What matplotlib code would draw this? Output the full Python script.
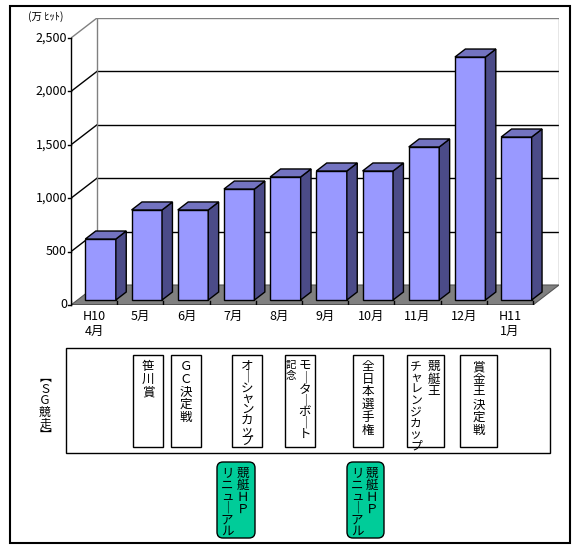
import matplotlib.pyplot as plt
from matplotlib.patches import Polygon, Rectangle, FancyBboxPatch

plt.rcParams['font.family'] = ['Noto Sans CJK JP', 'DejaVu Sans']

# data
months = ['H10\n4月', '5月', '6月', '7月', '8月', '9月', '10月', '11月', '12月', 'H11\n1月']
hits = [571, 843, 843, 1039, 1152, 1208, 1208, 1433, 2275, 1526]
yticks = [0, 500, 1000, 1500, 2000, 2500]
ytick_labels = ['0', '500', '1,000', '1,500', '2,000', '2,500']
unit_label = '(万 ﾋｯﾄ)'

sg_title = '【ＳＧ競走】'
races = [['笹川賞'], ['ＧＣ決定戦'], ['オーシャンカップ'], ['モーターボート', '記念'],
         ['全日本選手権'], ['競艇王', 'チャレンジカップ'], ['賞金王決定戦']]
hp_notes = [['競艇ＨＰ', 'リニューアル'], ['競艇ＨＰ', 'リニューアル']]

# colours
front_c = '#9999ff'
top_c = '#7373c0'
side_c = '#4b4b88'
floor_c = '#808080'

W, H = 585, 546
fig = plt.figure(figsize=(W / 100, H / 100), dpi=100)

# chart axes: x in categories, y in hits; the extra part is the 3d depth
dxd = 26 / 46.2          # depth in category units
dyd = 20 * 2500 / 267    # depth in value units
px = 1 / 46.2
py = 2500 / 267
ax = fig.add_axes([71 / W, 1 - 305 / H, 488 / W, 287 / H])
ax.set_xlim(0, 10 + dxd)
ax.set_ylim(0, 2500 + dyd)
ax.axis('off')

# floor
ax.add_patch(Polygon([(0, 0), (10, 0), (10 + dxd, dyd), (dxd, dyd)],
                     closed=True, fc=floor_c, ec='#555555', lw=0.8, zorder=1))
# walls / gridlines
for v in yticks[1:]:
    col = '#808080' if v == 2500 else 'black'
    ax.plot([dxd, 10 + dxd], [v + dyd, v + dyd], color=col, lw=1, zorder=0.5)
    ax.plot([0, dxd], [v, v + dyd], color=col, lw=1, zorder=0.5)
ax.plot([dxd, dxd], [dyd, 2500 + dyd], color='#808080', lw=1, zorder=0.5)
ax.plot([10 + dxd, 10 + dxd], [dyd, 2500 + dyd], color='#808080', lw=1, zorder=0.5)

# y axis
ax.plot([0, 0], [0, 2500], color='black', lw=1, clip_on=False, zorder=3)
for v, lab in zip(yticks, ytick_labels):
    ax.plot([-3 * px, 0], [v, v], color='black', lw=1, clip_on=False, zorder=3)
    ax.text(-4 * px, v, lab, ha='right', va='center', fontsize=9, clip_on=False)

# x axis
ax.plot([0, 10], [0, 0], color='black', lw=1, zorder=3)
for i in range(11):
    ax.plot([i, i], [0, 4 * py], color='black', lw=1, zorder=3)
for i, m in enumerate(months):
    ax.text(i + 0.5, -5 * py, m, ha='center', va='top', fontsize=9,
            linespacing=1.15, clip_on=False)

# 3d bars
f0, f1 = 0.25, 0.65
bw = 0.66
xs = [i + 0.5 + f0 * dxd for i in range(len(hits))]
base = f0 * dyd
ax.bar(xs, hits, width=bw, bottom=base, color=front_c, edgecolor='black',
       lw=1, zorder=4)
ddx, ddy = (f1 - f0) * dxd, (f1 - f0) * dyd
for x, v in zip(xs, hits):
    xl, xr, yt = x - bw / 2, x + bw / 2, base + v
    ax.add_patch(Polygon([(xr, base), (xr, yt), (xr + ddx, yt + ddy), (xr + ddx, base + ddy)],
                         closed=True, fc=side_c, ec='black', lw=1, zorder=4))
    ax.add_patch(Polygon([(xl, yt), (xr, yt), (xr + ddx, yt + ddy), (xl + ddx, yt + ddy)],
                         closed=True, fc=top_c, ec='black', lw=1, zorder=4))

# overlay in pixel units for the annotation panel
ov = fig.add_axes([0, 0, 1, 1])
ov.set_xlim(0, W)
ov.set_ylim(H, 0)
ov.axis('off')

ov.add_patch(Rectangle((10, 6), 560, 537, fill=False, ec='black', lw=1.5))
ov.text(28, 17, unit_label, ha='left', va='center', fontsize=7.5)


def vtext(x, y, s, pitch, size=9):
    # vertical japanese: one character per line
    s = s.replace('ー', '｜').replace('【', '︻').replace('】', '︼')
    ov.text(x, y, '\n'.join(s), ha='center', va='top', fontsize=size,
            linespacing=pitch / (1.03 * size * 100 / 72),
            multialignment='center')


ov.add_patch(Rectangle((66, 348), 484, 105, fill=False, ec='black', lw=1))
vtext(45, 371, sg_title, 10.5, size=8.5)

race_box = [(133, 163), (171, 201), (232, 262), (285, 315), (353, 383), (407, 444), (460, 497)]
race_pitch = [12.5, 12.5, 10, 10.8, 12.5, 12.5, 12.5]
for (x0, x1), cols, p in zip(race_box, races, race_pitch):
    ov.add_patch(Rectangle((x0, 355), x1 - x0, 92, fill=False, ec='black', lw=1))
    if len(cols) == 1:
        vtext((x0 + x1) / 2, 360, cols[0], p)
    else:
        vtext(x1 - 10, 360, cols[0], p)
        small = len(cols[1]) <= 2
        vtext(x0 + 6 if small else x0 + 9, 360, cols[1], 11.5 if small else 10.2,
              size=7.5 if small else 8.5)

hp_box = [(217, 255), (347, 384)]
for (x0, x1), cols in zip(hp_box, hp_notes):
    ov.add_patch(FancyBboxPatch((x0 + 4, 466), x1 - x0 - 8, 68,
                                boxstyle='round,pad=4,rounding_size=6',
                                fc='#00cc99', ec='black', lw=1))
    vtext(x1 - 12, 467, cols[0], 11.5)
    vtext(x0 + 10, 467, cols[1], 11)

fig.savefig('out.png', dpi=100)
